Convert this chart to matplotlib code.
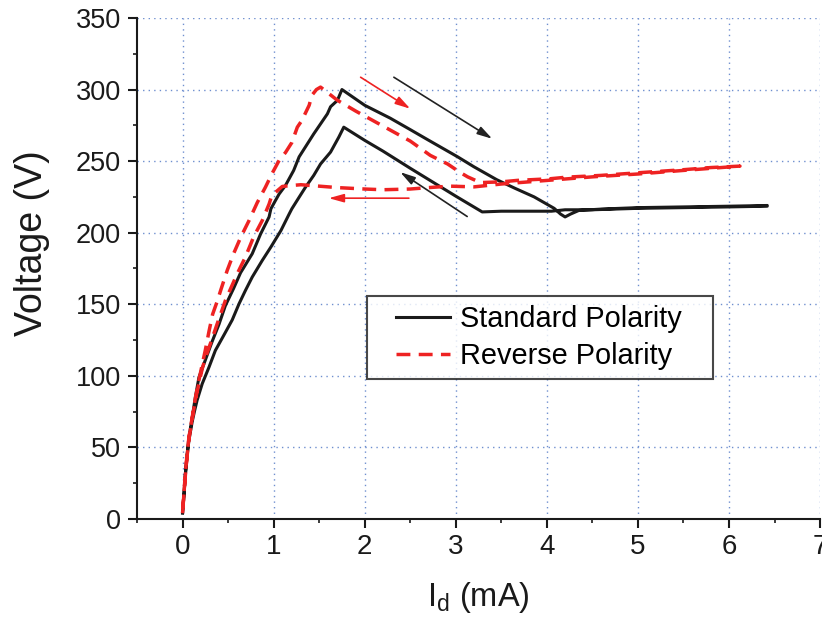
import matplotlib
matplotlib.use("Agg")
import matplotlib.pyplot as plt
from matplotlib.ticker import MultipleLocator
from matplotlib.lines import Line2D
from matplotlib.legend_handler import HandlerLine2D

plt.rcParams['font.family'] = ['Liberation Sans', 'DejaVu Sans']
plt.rcParams['mathtext.fontset'] = 'custom'
plt.rcParams['mathtext.rm'] = 'Liberation Sans'

# Standard polarity sweep: rise, negative-resistance branch, plateau and return
std_i = [0.0, 0.015, 0.03, 0.05, 0.07, 0.106, 0.14, 0.18, 0.25, 0.325, 0.40, 0.47,
         0.56, 0.637, 0.765, 0.856, 0.95, 0.97, 1.02, 1.06, 1.13, 1.22, 1.28,
         1.35, 1.44, 1.515, 1.59, 1.625, 1.70, 1.75,
         2.00, 2.28, 2.50, 2.69, 3.02, 3.20, 3.45, 3.65, 3.86, 4.08, 4.15, 4.20, 4.26,
         4.35, 4.60, 5.00, 5.50, 6.00, 6.42,
         6.42, 6.00, 5.50, 5.00, 4.50, 4.20, 4.05, 3.80, 3.50, 3.29,
         3.00, 2.50, 2.20, 2.00, 1.77,
         1.715, 1.625, 1.515, 1.44, 1.35, 1.28, 1.20, 1.17, 1.08, 0.97, 0.875, 0.765,
         0.69, 0.62, 0.545, 0.45, 0.36, 0.29, 0.216, 0.16, 0.13, 0.106, 0.07, 0.05,
         0.03, 0.015, 0.0]
std_v = [4, 17, 31, 45, 57, 71, 85, 99, 111, 124, 136, 149,
         161, 172, 185.3, 199, 211, 216.7, 222.5, 227, 233, 243.5, 253,
         260, 269, 276, 283, 288, 292.4, 300,
         289, 280, 272, 265, 253, 246, 237, 231, 225, 217, 213, 211, 213,
         215.5, 216.5, 217.5, 218, 218.5, 219,
         218.5, 218, 217.5, 217, 216, 216, 215, 215, 215, 214.5,
         225.5, 245, 257, 264.5, 273.7,
         266.7, 256.3, 248, 240, 231.8, 224.8, 216.7, 213, 201.5, 190, 180.6, 169,
         159.6, 150.3, 139, 128, 117.7, 106, 94.5, 83, 75, 68, 55, 44,
         30, 16, 5]

# Reverse polarity sweep
rev_i = [0.0, 0.015, 0.03, 0.05, 0.07, 0.106, 0.14, 0.18, 0.216, 0.25, 0.29, 0.33,
         0.38, 0.42, 0.49, 0.56, 0.64, 0.73, 0.82, 0.91, 0.98, 1.06, 1.13, 1.20,
         1.26, 1.31, 1.39, 1.42, 1.47, 1.515,
         1.70, 1.90, 2.10, 2.30, 2.50, 2.72, 2.91, 3.05, 3.13, 3.27,
         3.50, 3.67, 4.04, 4.22, 4.59, 4.99, 5.50, 5.80, 6.12,
         5.50, 5.00, 4.50, 4.00, 3.50, 3.20, 2.94, 2.70, 2.50, 2.20, 2.00, 1.70, 1.50,
         1.30, 1.20, 1.095,
         0.98, 0.95, 0.875, 0.78, 0.69, 0.60, 0.527, 0.47, 0.38, 0.33, 0.27, 0.22,
         0.18, 0.14, 0.106, 0.07, 0.05, 0.03, 0.015, 0.0]
rev_v = [4, 17.6, 31.6, 45.5, 57, 71, 84, 97, 108, 118, 131, 143,
         152, 160, 173.6, 185.3, 197, 208.5, 221, 231.8, 241, 250.5, 256, 263,
         273.7, 278.4, 289, 296, 300, 301.7,
         292.5, 285, 278, 271, 264, 254, 248, 242, 239, 235,
         235.5, 236.5, 237.7, 238.8, 240, 241.8, 244, 245.5, 246.5,
         243.5, 241, 239, 236.5, 234, 232, 232.5, 231.5, 230.5, 230, 230.5, 231.5, 232.5,
         233.5, 233, 232.3,
         226, 220, 208.5, 197, 183, 171.3, 160.8, 152.6, 136.3, 127, 116, 106,
         95, 83, 70, 56, 44, 30, 17, 6]

# Sweep-direction arrows: (tail_i, tail_v, head_i, head_v, colour)
arrows = [
    (1.955, 308.6, 2.50, 286.6, '#ee2222'),
    (2.32, 308.6, 3.40, 265.6, '#222222'),
    (3.125, 211.3, 2.39, 242.3, '#222222'),
    (2.485, 224.1, 1.605, 224.1, '#ee2222'),
]

fig = plt.figure(figsize=(8.22, 6.2), dpi=100)
ax = fig.add_axes([0.1667, 0.163, 0.831, 0.808])

ax.plot(std_i, std_v, color='#1a1a1a', lw=2.2, label='Standard Polarity', zorder=3)
ax.plot(rev_i, rev_v, color='#ee2222', lw=2.5, ls=(0, (4, 2.4)),
        label='Reverse Polarity', zorder=4)

for ti, tv, hi, hv, c in arrows:
    ax.annotate('', xy=(hi, hv), xytext=(ti, tv),
                arrowprops=dict(arrowstyle='-|>,head_length=0.9,head_width=0.25',
                                color=c, lw=1.2, shrinkA=0, shrinkB=0))

ax.set_xlim(-0.5, 7)
ax.set_ylim(0, 350)
ax.xaxis.set_major_locator(MultipleLocator(1))
ax.xaxis.set_minor_locator(MultipleLocator(0.5))
ax.yaxis.set_major_locator(MultipleLocator(50))
ax.yaxis.set_minor_locator(MultipleLocator(25))

ax.grid(True, which='major', color='#6f8fcf', lw=1.0, ls=(0, (1, 3)))
ax.set_axisbelow(True)

for s in ('top', 'right'):
    ax.spines[s].set_visible(False)
for s in ('left', 'bottom'):
    ax.spines[s].set_linewidth(1.5)
    ax.spines[s].set_color('#1a1a1a')

ax.tick_params(which='major', direction='out', length=6.5, width=1.5, colors='#1a1a1a')
ax.tick_params(which='minor', direction='out', length=3.2, width=1.2, colors='#1a1a1a')
ax.tick_params(axis='x', which='major', labelsize=20, pad=4)
ax.tick_params(axis='y', which='major', labelsize=19.5, pad=5)

ax.set_xlabel(r'I$_\mathregular{d}$ (mA)', fontsize=23.5, color='#1a1a1a', labelpad=15)
ax.set_ylabel('Voltage (V)', fontsize=27, color='#1a1a1a')
ax.yaxis.set_label_coords(-0.127, 0.55)

leg = ax.legend(loc='lower left', bbox_to_anchor=(0.3367, 0.2794, 0.5066, 0.1637),
                mode='expand', borderaxespad=0, fontsize=20.8,
                frameon=True, fancybox=False, edgecolor='#1a1a1a',
                handlelength=2.56, handletextpad=0.35, borderpad=0.3,
                labelspacing=0.33,
                handler_map={Line2D: HandlerLine2D(xpad=0.7)})
leg.get_frame().set_linewidth(1.5)

fig.savefig('out.png', dpi=100)
